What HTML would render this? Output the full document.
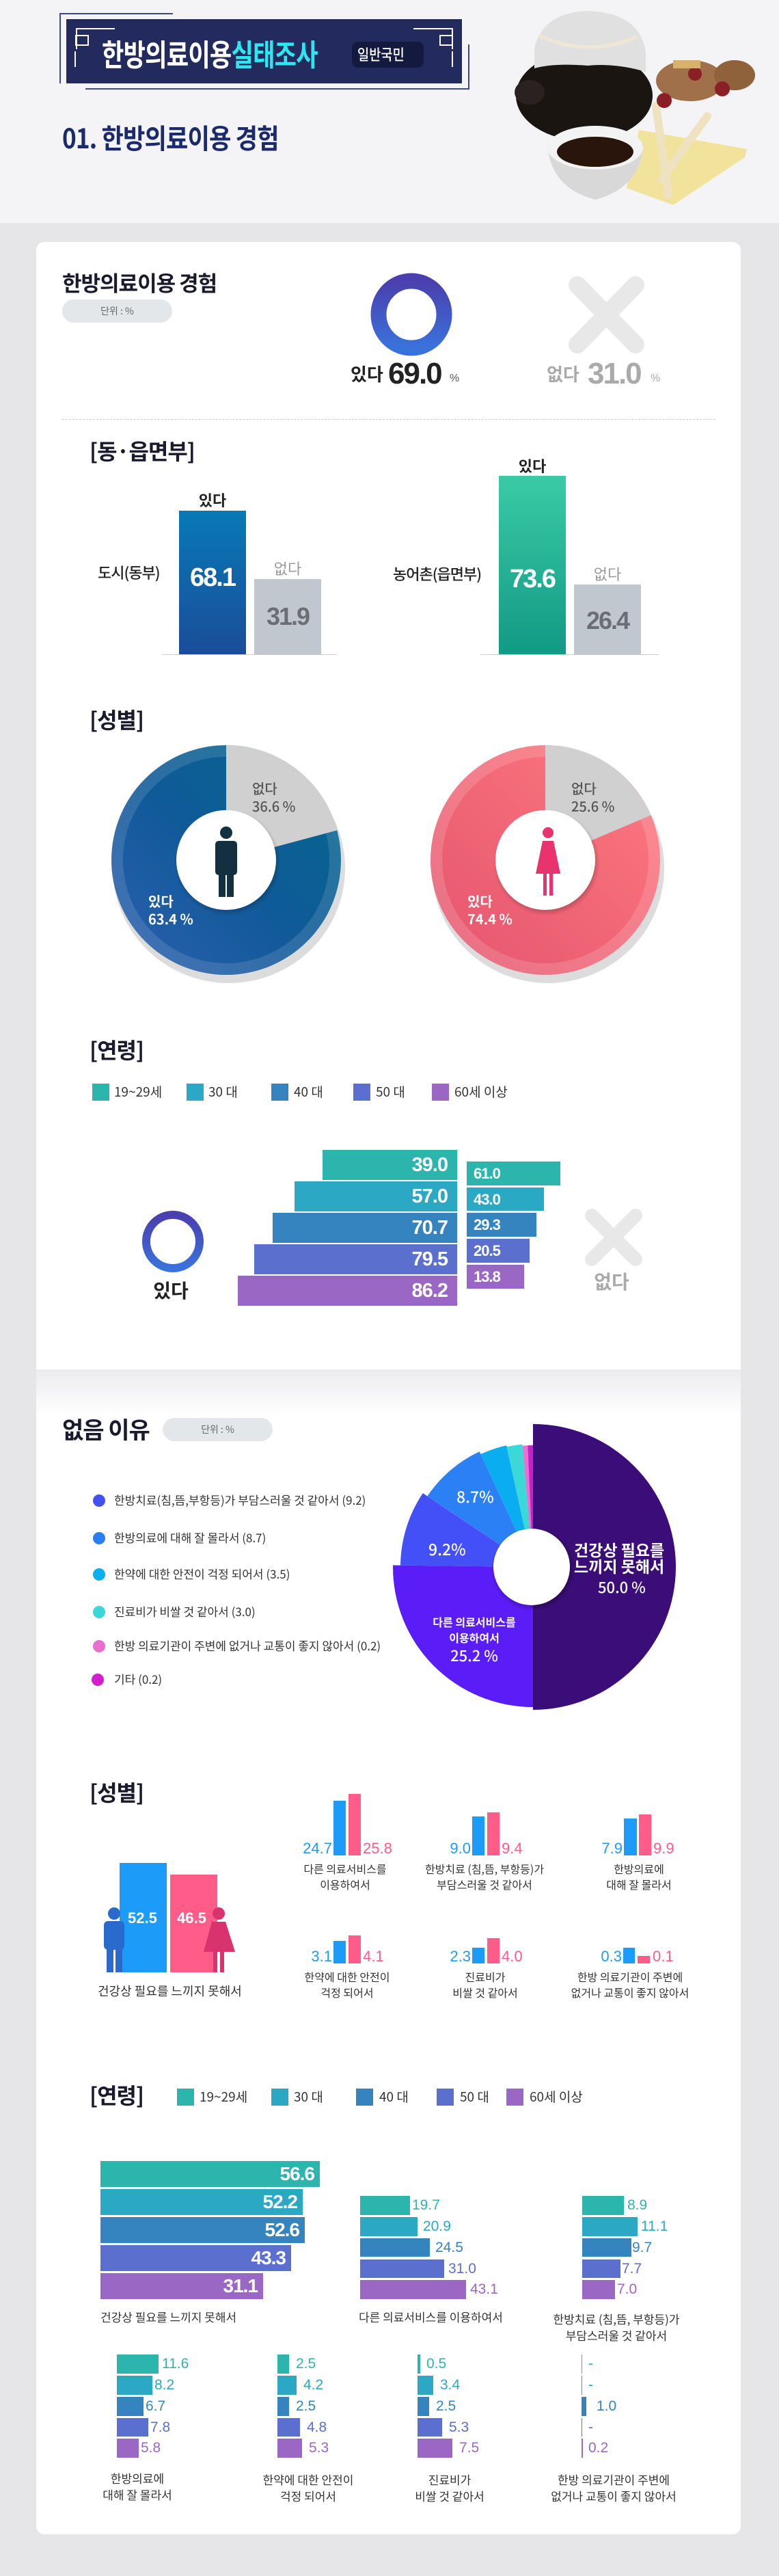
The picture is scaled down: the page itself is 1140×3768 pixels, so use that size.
<!DOCTYPE html>
<html><head><meta charset="utf-8">
<style>
*{margin:0;padding:0;box-sizing:border-box}
body{width:1140px;height:3768px;background:#e6e6e9;position:relative;overflow:hidden;font-family:"Liberation Sans","Noto Sans CJK KR",sans-serif;color:#222}
.a{position:absolute;white-space:nowrap;line-height:1}
.k{font-family:"Noto Sans CJK KR","Liberation Sans",sans-serif}
.c{text-align:center}
.bar{position:absolute}
.h2{font-size:32px;font-weight:700;color:#1a1a2e;letter-spacing:-1px}
.lg{font-size:19px;color:#333}
.sq{position:absolute;width:25px;height:25px}
</style></head><body>
<div class="a" style="left:0;top:0;width:1140px;height:326px;background:#f4f4f7"></div>
<svg class="a" style="left:0;top:0" width="1140" height="326">
 <polyline points="253,20 88,20 88,122" fill="none" stroke="#3b4a8f" stroke-width="2"/>
 <polyline points="125,130 686,130 686,65" fill="none" stroke="#3b4a8f" stroke-width="2"/>
 <rect x="97" y="28" width="579" height="94" fill="#232a5e"/>
 <polyline points="112,72 112,42 168,42" fill="none" stroke="#fff" stroke-width="2"/>
 <polyline points="662,72 662,42 605,42" fill="none" stroke="#fff" stroke-width="2"/>
 <rect x="111" y="52" width="18" height="14" fill="none" stroke="#fff" stroke-width="2"/>
 <rect x="644" y="52" width="18" height="14" fill="none" stroke="#fff" stroke-width="2"/>
 <line x1="110" y1="75" x2="110" y2="98" stroke="#fff" stroke-width="2"/>
 <line x1="662" y1="75" x2="662" y2="98" stroke="#fff" stroke-width="2"/>
 <rect x="515" y="61" width="105" height="38" rx="9" fill="#14193f"/>
 <polygon points="935,190 1093,218 1090,230 985,300 917,275" fill="#f2e39c"/>
 <ellipse cx="855" cy="140" rx="100" ry="66" fill="#1b1512"/>
 <ellipse cx="775" cy="135" rx="22" ry="18" fill="#2a2220"/>
 <path d="M782,70 Q795,18 860,16 Q935,18 945,75 L945,105 Q900,92 860,96 Q810,92 782,100 Z" fill="#e0e0e0"/>
 <path d="M788,52 Q860,85 932,54" fill="none" stroke="#efe7d6" stroke-width="5"/>
 <path d="M801,210 Q805,275 871,292 Q937,275 942,210 Z" fill="#d8d8d8"/>
 <ellipse cx="871" cy="216" rx="70" ry="32" fill="#f3f3f3"/>
 <ellipse cx="871" cy="222" rx="56" ry="22" fill="#2a150c"/>
 <line x1="960" y1="155" x2="978" y2="285" stroke="#efe2c0" stroke-width="12" stroke-linecap="round"/>
 <line x1="1035" y1="170" x2="968" y2="262" stroke="#efe2c0" stroke-width="12" stroke-linecap="round"/>
 <ellipse cx="1010" cy="118" rx="50" ry="30" fill="#a0704a"/>
 <ellipse cx="1075" cy="110" rx="30" ry="22" fill="#8f623c"/>
 <circle cx="972" cy="147" r="11" fill="#8a1f25"/>
 <circle cx="1057" cy="130" r="11" fill="#8a1f25"/>
 <circle cx="1017" cy="108" r="10" fill="#8a1f25"/>
 <rect x="985" y="88" width="40" height="12" fill="#d8b26a"/>
</svg>
<div class="a k" style="left:149px;top:55px;font-size:44px;font-weight:700;color:#fff;transform:scaleX(0.8);transform-origin:left top;letter-spacing:-1px">한방의료이용<span style="color:#2de6f0">실태조사</span></div>
<div class="a k" style="left:523px;top:68px;font-size:22px;color:#fff;font-weight:500;transform:scaleX(0.85);transform-origin:left top">일반국민</div>
<div class="a k" style="left:91px;top:180px;font-size:40px;font-weight:700;color:#1b2a6b;transform:scaleX(0.88);transform-origin:left top;letter-spacing:-1px">01. 한방의료이용 경험</div>

<div class="a" style="left:53px;top:354px;width:1031px;height:1649px;background:#fff;border-radius:12px 12px 0 0"></div>
<div class="a k" style="left:91px;top:397px;font-size:31px;font-weight:700;color:#1a1a2e;letter-spacing:-1px">한방의료이용 경험</div>
<div class="a k c" style="left:91px;top:438px;width:161px;height:34px;border-radius:17px;background:#e3e7ea;font-size:14px;line-height:34px;color:#666">단위 : %</div>
<svg class="a" style="left:0;top:380" width="1140" height="160">
 <defs><linearGradient id="og" x1="0" y1="0" x2="0" y2="1"><stop offset="0" stop-color="#4a3fae"/><stop offset="1" stop-color="#3a72dc"/></linearGradient></defs>
 <ellipse cx="602" cy="80" rx="48" ry="49" fill="none" stroke="url(#og)" stroke-width="23"/>
 <line x1="845" y1="37" x2="930" y2="124" stroke="#e8e8e8" stroke-width="26" stroke-linecap="round"/>
 <line x1="930" y1="37" x2="845" y2="124" stroke="#e8e8e8" stroke-width="26" stroke-linecap="round"/>
</svg>
<div class="a k" style="left:513px;top:534px;font-size:26px;font-weight:700;color:#222">있다</div>
<div class="a" style="left:568px;top:525px;font-size:44px;font-weight:700;color:#222;letter-spacing:-2px">69.0</div>
<div class="a" style="left:658px;top:546px;font-size:16px;color:#555">%</div>
<div class="a k" style="left:800px;top:534px;font-size:26px;font-weight:700;color:#aaa">없다</div>
<div class="a" style="left:860px;top:525px;font-size:44px;font-weight:700;color:#aaa;letter-spacing:-2px">31.0</div>
<div class="a" style="left:952px;top:546px;font-size:16px;color:#aaa">%</div>
<div class="a" style="left:91px;top:613px;width:956px;border-top:1px dashed #ccc"></div>

<div class="a k h2" style="left:131px;top:643px">[동·읍면부]</div>
<div class="a" style="left:237px;top:957px;width:256px;height:1px;background:#ccc"></div>
<div class="a" style="left:703px;top:957px;width:261px;height:1px;background:#ccc"></div>
<div class="bar" style="left:262px;top:747px;width:98px;height:210px;background:linear-gradient(#0779b5,#1a4d9a)"></div>
<div class="bar" style="left:372px;top:847px;width:98px;height:110px;background:#c1c7cf"></div>
<div class="bar" style="left:730px;top:696px;width:98px;height:261px;background:linear-gradient(#3acba5,#119a85)"></div>
<div class="bar" style="left:840px;top:855px;width:98px;height:102px;background:#c1c7cf"></div>
<div class="a k c" style="left:262px;top:720px;width:98px;font-size:22px;font-weight:700">있다</div>
<div class="a k c" style="left:372px;top:820px;width:98px;font-size:22px;color:#999">없다</div>
<div class="a k c" style="left:730px;top:670px;width:98px;font-size:22px;font-weight:700">있다</div>
<div class="a k c" style="left:840px;top:828px;width:98px;font-size:22px;color:#999">없다</div>
<div class="a c" style="left:262px;top:826px;width:98px;font-size:38px;font-weight:700;color:#fff;letter-spacing:-2px">68.1</div>
<div class="a c" style="left:372px;top:884px;width:98px;font-size:36px;font-weight:700;color:#6a6e78;letter-spacing:-2px">31.9</div>
<div class="a c" style="left:730px;top:828px;width:98px;font-size:38px;font-weight:700;color:#fff;letter-spacing:-2px">73.6</div>
<div class="a c" style="left:840px;top:890px;width:98px;font-size:36px;font-weight:700;color:#6a6e78;letter-spacing:-2px">26.4</div>
<div class="a k" style="left:143px;top:826px;font-size:22px;font-weight:500;letter-spacing:-1px">도시(동부)</div>
<div class="a k" style="left:575px;top:828px;font-size:22px;font-weight:500;letter-spacing:-1px">농어촌(읍면부)</div>

<div class="a k h2" style="left:131px;top:1036px">[성별]</div>
<svg class="a" style="left:0;top:1060px" width="1140" height="400" viewBox="0 1060 1140 400">
 <defs>
  <linearGradient id="mb" x1="0" y1="1" x2="1" y2="0"><stop offset="0" stop-color="#2d5fb0"/><stop offset="0.5" stop-color="#0f5a98"/><stop offset="1" stop-color="#03698a"/></linearGradient>
  <linearGradient id="fb" x1="0" y1="1" x2="1" y2="0"><stop offset="0" stop-color="#e4546e"/><stop offset="1" stop-color="#ff7a80"/></linearGradient>
  <radialGradient id="hs"><stop offset="0.85" stop-color="#000" stop-opacity="0.25"/><stop offset="1" stop-color="#000" stop-opacity="0"/></radialGradient>
 </defs>
 <ellipse cx="335" cy="1270" rx="170" ry="168" fill="#dcdcdc"/>
 <circle cx="331" cy="1258" r="168" fill="url(#mb)"/>
 <circle cx="331" cy="1258" r="160" fill="none" stroke="#fff" stroke-opacity="0.12" stroke-width="18"/>
 <path d="M331,1258 L331,1090 A168,168 0 0 1 493.3,1214.5 Z" fill="#d0d0d0"/>
 <circle cx="333" cy="1262" r="78" fill="url(#hs)"/>
 <circle cx="331" cy="1258" r="73" fill="#fff"/>
 <circle cx="331" cy="1218" r="9" fill="#12303f"/>
 <rect x="315" y="1230" width="32" height="50" rx="5" fill="#12303f"/>
 <rect x="320" y="1270" width="10" height="42" fill="#12303f"/><rect x="332" y="1270" width="10" height="42" fill="#12303f"/>
 <ellipse cx="802" cy="1270" rx="170" ry="168" fill="#dcdcdc"/>
 <circle cx="798" cy="1258" r="168" fill="url(#fb)"/>
 <circle cx="798" cy="1258" r="160" fill="none" stroke="#fff" stroke-opacity="0.15" stroke-width="18"/>
 <path d="M798,1258 L798,1090 A168,168 0 0 1 952.6,1192.4 Z" fill="#d0d0d0"/>
 <circle cx="800" cy="1262" r="78" fill="url(#hs)"/>
 <circle cx="798" cy="1258" r="73" fill="#fff"/>
 <circle cx="802" cy="1218" r="8" fill="#e8336f"/>
 <path d="M794,1230 L810,1230 L820,1278 L784,1278 Z" fill="#e8336f"/>
 <rect x="795" y="1276" width="5" height="34" fill="#e8336f"/><rect x="804" y="1276" width="5" height="34" fill="#e8336f"/>
</svg>
<div class="a k" style="left:369px;top:1140px;font-size:20px;color:#555;line-height:1.3;font-weight:500">없다<br>36.6 %</div>
<div class="a k" style="left:217px;top:1305px;font-size:20px;color:#fff;line-height:1.3;font-weight:700">있다<br>63.4 %</div>
<div class="a k" style="left:836px;top:1140px;font-size:20px;color:#555;line-height:1.3;font-weight:500">없다<br>25.6 %</div>
<div class="a k" style="left:684px;top:1305px;font-size:20px;color:#fff;line-height:1.3;font-weight:700">있다<br>74.4 %</div>

<div class="a k h2" style="left:131px;top:1519px">[연령]</div>
<div class="sq" style="left:135px;top:1585px;background:#2cb5ad"></div><div class="a k lg" style="left:167px;top:1587px">19~29세</div>
<div class="sq" style="left:273px;top:1585px;background:#2aa8c4"></div><div class="a k lg" style="left:305px;top:1587px">30 대</div>
<div class="sq" style="left:397px;top:1585px;background:#3584bf"></div><div class="a k lg" style="left:430px;top:1587px">40 대</div>
<div class="sq" style="left:517px;top:1585px;background:#5b6fcf"></div><div class="a k lg" style="left:550px;top:1587px">50 대</div>
<div class="sq" style="left:632px;top:1585px;background:#9b67c4"></div><div class="a k lg" style="left:665px;top:1587px">60세 이상</div>

<div class="bar" style="left:472px;top:1682px;width:197px;height:44px;background:#2cb5ad"></div>
<div class="bar" style="left:431px;top:1728px;width:238px;height:44px;background:#2aa8c4"></div>
<div class="bar" style="left:399px;top:1774px;width:270px;height:44px;background:#3584bf"></div>
<div class="bar" style="left:372px;top:1820px;width:297px;height:44px;background:#5b6fcf"></div>
<div class="bar" style="left:348px;top:1866px;width:321px;height:44px;background:#9b67c4"></div>
<div class="a" style="left:540px;top:1690px;width:115px;text-align:right;font-size:29px;color:#fff;font-weight:700;letter-spacing:-1px">39.0</div>
<div class="a" style="left:540px;top:1736px;width:115px;text-align:right;font-size:29px;color:#fff;font-weight:700;letter-spacing:-1px">57.0</div>
<div class="a" style="left:540px;top:1782px;width:115px;text-align:right;font-size:29px;color:#fff;font-weight:700;letter-spacing:-1px">70.7</div>
<div class="a" style="left:540px;top:1828px;width:115px;text-align:right;font-size:29px;color:#fff;font-weight:700;letter-spacing:-1px">79.5</div>
<div class="a" style="left:540px;top:1874px;width:115px;text-align:right;font-size:29px;color:#fff;font-weight:700;letter-spacing:-1px">86.2</div>
<div class="bar" style="left:683px;top:1699px;width:137px;height:35px;background:#2cb5ad"></div>
<div class="bar" style="left:683px;top:1737px;width:113px;height:34px;background:#2aa8c4"></div>
<div class="bar" style="left:683px;top:1774px;width:102px;height:35px;background:#3584bf"></div>
<div class="bar" style="left:683px;top:1812px;width:92px;height:35px;background:#5b6fcf"></div>
<div class="bar" style="left:683px;top:1850px;width:84px;height:35px;background:#9b67c4"></div>
<div class="a" style="left:693px;top:1706px;font-size:22px;color:#fff;font-weight:700;letter-spacing:-1px">61.0</div>
<div class="a" style="left:693px;top:1744px;font-size:22px;color:#fff;font-weight:700;letter-spacing:-1px">43.0</div>
<div class="a" style="left:693px;top:1781px;font-size:22px;color:#fff;font-weight:700;letter-spacing:-1px">29.3</div>
<div class="a" style="left:693px;top:1819px;font-size:22px;color:#fff;font-weight:700;letter-spacing:-1px">20.5</div>
<div class="a" style="left:693px;top:1857px;font-size:22px;color:#fff;font-weight:700;letter-spacing:-1px">13.8</div>
<svg class="a" style="left:0;top:1760px" width="1140" height="110">
 <circle cx="253" cy="56" r="39" fill="none" stroke="url(#og)" stroke-width="12"/>
 <line x1="866" y1="18" x2="930" y2="82" stroke="#e8e8e8" stroke-width="20" stroke-linecap="round"/>
 <line x1="930" y1="18" x2="866" y2="82" stroke="#e8e8e8" stroke-width="20" stroke-linecap="round"/>
</svg>
<div class="a k c" style="left:210px;top:1873px;width:80px;font-size:28px;font-weight:700;color:#222">있다</div>
<div class="a k c" style="left:855px;top:1860px;width:80px;font-size:28px;font-weight:700;color:#aaa">없다</div>

<div class="a" style="left:53px;top:2003px;width:1031px;height:1704px;background:linear-gradient(#ececef,#fff 70px);border-radius:0 0 12px 12px"></div>
<div class="a k" style="left:91px;top:2073px;font-size:34px;font-weight:700;color:#1a1a2e;letter-spacing:-1px">없음 이유</div>
<div class="a k c" style="left:238px;top:2074px;width:161px;height:34px;border-radius:17px;background:#e3e7ea;font-size:14px;line-height:34px;color:#666">단위 : %</div>
<svg class="a" style="left:0;top:2080px" width="1140" height="440" viewBox="0 2080 1140 440">
 <circle cx="145" cy="2195" r="9" fill="#4450f5"/>
 <circle cx="145" cy="2250" r="9" fill="#2a7df2"/>
 <circle cx="145" cy="2303" r="9" fill="#0ab0ef"/>
 <circle cx="145" cy="2358" r="9" fill="#3ad7d8"/>
 <circle cx="145" cy="2408" r="9" fill="#e86ed0"/>
 <circle cx="143" cy="2457" r="9" fill="#d21fd0"/>
 <path d="M780,2292 L780,2083 A209,209 0 0 1 780,2501 Z" fill="#3b0d78"/>
 <path d="M780,2292 L780,2497 A205,205 0 0 1 575,2289.5 Z" fill="#5a1cf7"/>
 <path d="M780,2292 L586,2289.6 A194,194 0 0 1 618.8,2184.1 Z" fill="#4350f7"/>
 <path d="M780,2292 L625.4,2188.5 A186,186 0 0 1 701.7,2123.3 Z" fill="#2b80f5"/>
 <path d="M780,2292 L703.4,2127 A182,182 0 0 1 741.2,2114.2 Z" fill="#0aaef0"/>
 <path d="M780,2292 L741.7,2116.1 A180,180 0 0 1 764.3,2112.7 Z" fill="#3cd8d8"/>
 <path d="M780,2292 L764.5,2114.7 A178,178 0 0 1 772.2,2114.2 Z" fill="#ea6fd0"/>
 <path d="M780,2292 L772.2,2114.2 A178,178 0 0 1 780,2114 Z" fill="#c81fcc"/>
 <circle cx="780" cy="2295" r="62" fill="url(#hs)"/>
 <circle cx="778" cy="2292" r="56" fill="#fff"/>
</svg>
<div class="a k" style="left:167px;top:2185px;font-size:17px;color:#333">한방치료(침,뜸,부항등)가 부담스러울 것 같아서 (9.2)</div>
<div class="a k" style="left:167px;top:2240px;font-size:17px;color:#333">한방의료에 대해 잘 몰라서 (8.7)</div>
<div class="a k" style="left:167px;top:2293px;font-size:17px;color:#333">한약에 대한 안전이 걱정 되어서 (3.5)</div>
<div class="a k" style="left:167px;top:2348px;font-size:17px;color:#333">진료비가 비쌀 것 같아서 (3.0)</div>
<div class="a k" style="left:167px;top:2398px;font-size:17px;color:#333">한방 의료기관이 주변에 없거나 교통이 좋지 않아서 (0.2)</div>
<div class="a k" style="left:167px;top:2447px;font-size:17px;color:#333">기타 (0.2)</div>
<div class="a k" style="left:840px;top:2254px;font-size:23px;font-weight:700;color:#fff;line-height:1.05">건강상 필요를<br>느끼지 못해서</div>
<div class="a k" style="left:875px;top:2310px;font-size:22px;font-weight:500;color:#fff">50.0 %</div>
<div class="a k c" style="left:614px;top:2361px;width:160px;font-size:16px;font-weight:700;color:#fff;line-height:1.45">다른 의료서비스를<br>이용하여서</div>
<div class="a k c" style="left:614px;top:2410px;width:160px;font-size:22px;font-weight:500;color:#fff">25.2 %</div>
<div class="a k" style="left:627px;top:2254px;font-size:23px;font-weight:500;color:#fff">9.2%</div>
<div class="a k" style="left:668px;top:2177px;font-size:23px;font-weight:500;color:#fff">8.7%</div>

<div class="a k h2" style="left:131px;top:2605px">[성별]</div>
<div class="bar" style="left:175px;top:2725px;width:69px;height:160px;background:#1d9bf8"></div>
<div class="bar" style="left:249px;top:2742px;width:69px;height:143px;background:#ff5c8a"></div>
<div class="a" style="left:187px;top:2795px;font-size:22px;color:#fff;font-weight:700">52.5</div>
<div class="a" style="left:259px;top:2795px;font-size:22px;color:#fff;font-weight:700">46.5</div>
<svg class="a" style="left:140px;top:2785px" width="210" height="105">
 <circle cx="27" cy="14" r="9" fill="#2a6acc"/>
 <rect x="12" y="25" width="30" height="42" rx="6" fill="#2a6acc"/>
 <rect x="16" y="60" width="10" height="40" fill="#2a6acc"/><rect x="29" y="60" width="10" height="40" fill="#2a6acc"/>
 <circle cx="180" cy="14" r="9" fill="#d8336c"/>
 <path d="M170,26 L190,26 L204,70 L158,70 Z" fill="#d8336c"/>
 <rect x="172" y="68" width="6" height="32" fill="#d8336c"/><rect x="182" y="68" width="6" height="32" fill="#d8336c"/>
</svg>
<div class="a k" style="left:143px;top:2903px;font-size:18px;color:#333">건강상 필요를 느끼지 못해서</div>

<div class="bar" style="left:488px;top:2634px;width:18px;height:80px;background:#1d9bf8"></div>
<div class="bar" style="left:510px;top:2624px;width:18px;height:90px;background:#ff5c8a"></div>
<div class="a" style="left:436px;top:2693px;width:50px;text-align:right;font-size:22px;color:#1d9bf8">24.7</div>
<div class="a" style="left:531px;top:2693px;font-size:22px;color:#ff5c8a">25.8</div>
<div class="a k c" style="left:405px;top:2722px;width:200px;font-size:16px;color:#333;line-height:1.45">다른 의료서비스를<br>이용하여서</div>

<div class="bar" style="left:691px;top:2657px;width:18px;height:57px;background:#1d9bf8"></div>
<div class="bar" style="left:713px;top:2651px;width:18px;height:63px;background:#ff5c8a"></div>
<div class="a" style="left:639px;top:2693px;width:50px;text-align:right;font-size:22px;color:#1d9bf8">9.0</div>
<div class="a" style="left:734px;top:2693px;font-size:22px;color:#ff5c8a">9.4</div>
<div class="a k c" style="left:599px;top:2722px;width:220px;font-size:16px;color:#333;line-height:1.45">한방치료 (침,뜸, 부항등)가<br>부담스러울 것 같아서</div>

<div class="bar" style="left:913px;top:2660px;width:19px;height:54px;background:#1d9bf8"></div>
<div class="bar" style="left:935px;top:2654px;width:18px;height:60px;background:#ff5c8a"></div>
<div class="a" style="left:861px;top:2693px;width:50px;text-align:right;font-size:22px;color:#1d9bf8">7.9</div>
<div class="a" style="left:956px;top:2693px;font-size:22px;color:#ff5c8a">9.9</div>
<div class="a k c" style="left:835px;top:2722px;width:200px;font-size:16px;color:#333;line-height:1.45">한방의료에<br>대해 잘 몰라서</div>

<div class="bar" style="left:488px;top:2839px;width:18px;height:33px;background:#1d9bf8"></div>
<div class="bar" style="left:510px;top:2831px;width:18px;height:41px;background:#ff5c8a"></div>
<div class="a" style="left:436px;top:2851px;width:50px;text-align:right;font-size:22px;color:#1d9bf8">3.1</div>
<div class="a" style="left:531px;top:2851px;font-size:22px;color:#ff5c8a">4.1</div>
<div class="a k c" style="left:408px;top:2880px;width:200px;font-size:16px;color:#333;line-height:1.45">한약에 대한 안전이<br>걱정 되어서</div>

<div class="bar" style="left:691px;top:2849px;width:18px;height:23px;background:#1d9bf8"></div>
<div class="bar" style="left:713px;top:2835px;width:18px;height:37px;background:#ff5c8a"></div>
<div class="a" style="left:639px;top:2851px;width:50px;text-align:right;font-size:22px;color:#1d9bf8">2.3</div>
<div class="a" style="left:734px;top:2851px;font-size:22px;color:#ff5c8a">4.0</div>
<div class="a k c" style="left:610px;top:2880px;width:200px;font-size:16px;color:#333;line-height:1.45">진료비가<br>비쌀 것 같아서</div>

<div class="bar" style="left:912px;top:2849px;width:17px;height:23px;background:#1d9bf8"></div>
<div class="bar" style="left:933px;top:2861px;width:18px;height:11px;background:#ff5c8a"></div>
<div class="a" style="left:860px;top:2851px;width:50px;text-align:right;font-size:22px;color:#1d9bf8">0.3</div>
<div class="a" style="left:955px;top:2851px;font-size:22px;color:#ff5c8a">0.1</div>
<div class="a k c" style="left:812px;top:2880px;width:220px;font-size:16px;color:#333;line-height:1.45">한방 의료기관이 주변에<br>없거나 교통이 좋지 않아서</div>

<div class="a k h2" style="left:131px;top:3048px">[연령]</div>
<div class="sq" style="left:259px;top:3055px;background:#2cb5ad"></div><div class="a k lg" style="left:292px;top:3057px">19~29세</div>
<div class="sq" style="left:397px;top:3055px;background:#2aa8c4"></div><div class="a k lg" style="left:430px;top:3057px">30 대</div>
<div class="sq" style="left:521px;top:3055px;background:#3584bf"></div><div class="a k lg" style="left:555px;top:3057px">40 대</div>
<div class="sq" style="left:639px;top:3055px;background:#5b6fcf"></div><div class="a k lg" style="left:673px;top:3057px">50 대</div>
<div class="sq" style="left:741px;top:3055px;background:#9b67c4"></div><div class="a k lg" style="left:775px;top:3057px">60세 이상</div>

<div class="bar" style="left:147px;top:3161px;width:321px;height:38px;background:#2cb5ad"></div>
<div class="bar" style="left:147px;top:3202px;width:296px;height:38px;background:#2aa8c4"></div>
<div class="bar" style="left:147px;top:3243px;width:299px;height:38px;background:#3584bf"></div>
<div class="bar" style="left:147px;top:3284px;width:279px;height:38px;background:#5b6fcf"></div>
<div class="bar" style="left:147px;top:3325px;width:238px;height:38px;background:#9b67c4"></div>
<div class="a" style="left:360px;top:3166px;width:100px;text-align:right;font-size:28px;color:#fff;font-weight:700;letter-spacing:-1px">56.6</div>
<div class="a" style="left:335px;top:3207px;width:100px;text-align:right;font-size:28px;color:#fff;font-weight:700;letter-spacing:-1px">52.2</div>
<div class="a" style="left:338px;top:3248px;width:100px;text-align:right;font-size:28px;color:#fff;font-weight:700;letter-spacing:-1px">52.6</div>
<div class="a" style="left:318px;top:3289px;width:100px;text-align:right;font-size:28px;color:#fff;font-weight:700;letter-spacing:-1px">43.3</div>
<div class="a" style="left:277px;top:3330px;width:100px;text-align:right;font-size:28px;color:#fff;font-weight:700;letter-spacing:-1px">31.1</div>
<div class="a k" style="left:147px;top:3380px;font-size:17px;color:#333">건강상 필요를 느끼지 못해서</div>

<div class="bar" style="left:527px;top:3212px;width:73px;height:28px;background:#2cb5ad"></div>
<div class="bar" style="left:527px;top:3243px;width:84px;height:28px;background:#2aa8c4"></div>
<div class="bar" style="left:527px;top:3274px;width:102px;height:27px;background:#3584bf"></div>
<div class="bar" style="left:527px;top:3305px;width:123px;height:27px;background:#5b6fcf"></div>
<div class="bar" style="left:527px;top:3335px;width:155px;height:28px;background:#9b67c4"></div>
<div class="a" style="left:603px;top:3215px;font-size:21px;color:#2cb5ad">19.7</div>
<div class="a" style="left:619px;top:3246px;font-size:21px;color:#2aa8c4">20.9</div>
<div class="a" style="left:637px;top:3277px;font-size:21px;color:#3584bf">24.5</div>
<div class="a" style="left:656px;top:3308px;font-size:21px;color:#5b6fcf">31.0</div>
<div class="a" style="left:688px;top:3338px;font-size:21px;color:#9b67c4">43.1</div>
<div class="a k" style="left:525px;top:3380px;font-size:17px;color:#333">다른 의료서비스를 이용하여서</div>

<div class="bar" style="left:852px;top:3212px;width:61px;height:28px;background:#2cb5ad"></div>
<div class="bar" style="left:852px;top:3243px;width:81px;height:28px;background:#2aa8c4"></div>
<div class="bar" style="left:852px;top:3274px;width:72px;height:27px;background:#3584bf"></div>
<div class="bar" style="left:852px;top:3305px;width:56px;height:27px;background:#5b6fcf"></div>
<div class="bar" style="left:852px;top:3335px;width:48px;height:28px;background:#9b67c4"></div>
<div class="a" style="left:918px;top:3215px;font-size:21px;color:#2cb5ad">8.9</div>
<div class="a" style="left:938px;top:3246px;font-size:21px;color:#2aa8c4">11.1</div>
<div class="a" style="left:925px;top:3277px;font-size:21px;color:#3584bf">9.7</div>
<div class="a" style="left:910px;top:3308px;font-size:21px;color:#5b6fcf">7.7</div>
<div class="a" style="left:903px;top:3338px;font-size:21px;color:#9b67c4">7.0</div>
<div class="a k c" style="left:792px;top:3380px;width:220px;font-size:17px;color:#333;line-height:1.4">한방치료 (침,뜸, 부항등)가<br>부담스러울 것 같아서</div>

<div class="bar" style="left:171px;top:3444px;width:61px;height:28px;background:#2cb5ad"></div>
<div class="bar" style="left:171px;top:3475px;width:52px;height:28px;background:#2aa8c4"></div>
<div class="bar" style="left:171px;top:3506px;width:39px;height:28px;background:#3584bf"></div>
<div class="bar" style="left:171px;top:3537px;width:46px;height:27px;background:#5b6fcf"></div>
<div class="bar" style="left:171px;top:3567px;width:32px;height:28px;background:#9b67c4"></div>
<div class="a" style="left:237px;top:3447px;font-size:21px;color:#2cb5ad">11.6</div>
<div class="a" style="left:226px;top:3478px;font-size:21px;color:#2aa8c4">8.2</div>
<div class="a" style="left:213px;top:3509px;font-size:21px;color:#3584bf">6.7</div>
<div class="a" style="left:220px;top:3540px;font-size:21px;color:#5b6fcf">7.8</div>
<div class="a" style="left:206px;top:3570px;font-size:21px;color:#9b67c4">5.8</div>
<div class="a k c" style="left:101px;top:3613px;width:200px;font-size:17px;color:#333;line-height:1.4">한방의료에<br>대해 잘 몰라서</div>

<div class="bar" style="left:406px;top:3444px;width:17px;height:28px;background:#2cb5ad"></div>
<div class="bar" style="left:406px;top:3475px;width:28px;height:28px;background:#2aa8c4"></div>
<div class="bar" style="left:406px;top:3506px;width:17px;height:28px;background:#3584bf"></div>
<div class="bar" style="left:406px;top:3537px;width:33px;height:27px;background:#5b6fcf"></div>
<div class="bar" style="left:406px;top:3567px;width:36px;height:28px;background:#9b67c4"></div>
<div class="a" style="left:433px;top:3447px;font-size:21px;color:#2cb5ad">2.5</div>
<div class="a" style="left:444px;top:3478px;font-size:21px;color:#2aa8c4">4.2</div>
<div class="a" style="left:433px;top:3509px;font-size:21px;color:#3584bf">2.5</div>
<div class="a" style="left:449px;top:3540px;font-size:21px;color:#5b6fcf">4.8</div>
<div class="a" style="left:452px;top:3570px;font-size:21px;color:#9b67c4">5.3</div>
<div class="a k c" style="left:351px;top:3615px;width:200px;font-size:17px;color:#333;line-height:1.4">한약에 대한 안전이<br>걱정 되어서</div>

<div class="bar" style="left:611px;top:3444px;width:4px;height:28px;background:#2cb5ad"></div>
<div class="bar" style="left:611px;top:3475px;width:23px;height:28px;background:#2aa8c4"></div>
<div class="bar" style="left:611px;top:3506px;width:17px;height:28px;background:#3584bf"></div>
<div class="bar" style="left:611px;top:3537px;width:36px;height:27px;background:#5b6fcf"></div>
<div class="bar" style="left:611px;top:3567px;width:51px;height:28px;background:#9b67c4"></div>
<div class="a" style="left:624px;top:3447px;font-size:21px;color:#2cb5ad">0.5</div>
<div class="a" style="left:644px;top:3478px;font-size:21px;color:#2aa8c4">3.4</div>
<div class="a" style="left:638px;top:3509px;font-size:21px;color:#3584bf">2.5</div>
<div class="a" style="left:657px;top:3540px;font-size:21px;color:#5b6fcf">5.3</div>
<div class="a" style="left:672px;top:3570px;font-size:21px;color:#9b67c4">7.5</div>
<div class="a k c" style="left:558px;top:3615px;width:200px;font-size:17px;color:#333;line-height:1.4">진료비가<br>비쌀 것 같아서</div>

<div class="bar" style="left:851px;top:3444px;width:1px;height:28px;background:#2cb5ad"></div>
<div class="bar" style="left:851px;top:3475px;width:1px;height:28px;background:#2aa8c4"></div>
<div class="bar" style="left:851px;top:3506px;width:7px;height:28px;background:#3584bf"></div>
<div class="bar" style="left:851px;top:3537px;width:1px;height:27px;background:#5b6fcf"></div>
<div class="bar" style="left:851px;top:3567px;width:2px;height:28px;background:#9b67c4"></div>
<div class="a" style="left:861px;top:3447px;font-size:21px;color:#2cb5ad">-</div>
<div class="a" style="left:861px;top:3478px;font-size:21px;color:#2aa8c4">-</div>
<div class="a" style="left:873px;top:3509px;font-size:21px;color:#3584bf">1.0</div>
<div class="a" style="left:861px;top:3540px;font-size:21px;color:#5b6fcf">-</div>
<div class="a" style="left:861px;top:3570px;font-size:21px;color:#9b67c4">0.2</div>
<div class="a k c" style="left:788px;top:3615px;width:220px;font-size:17px;color:#333;line-height:1.4">한방 의료기관이 주변에<br>없거나 교통이 좋지 않아서</div>
</body></html>
